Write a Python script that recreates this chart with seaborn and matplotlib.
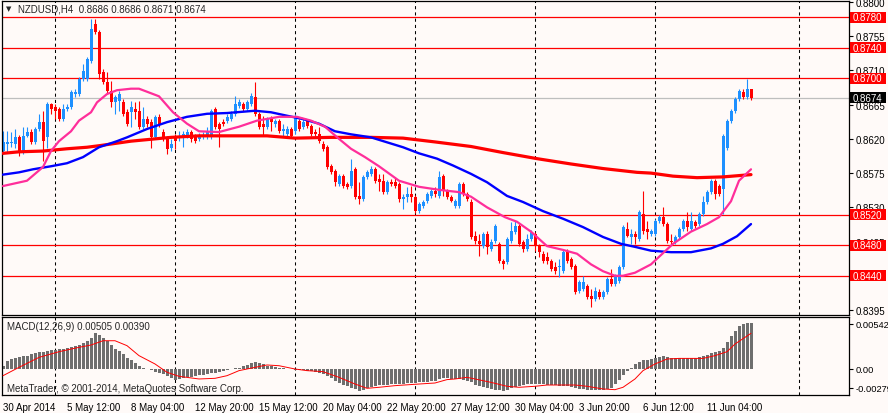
import numpy as np
import matplotlib
matplotlib.use("Agg")
import matplotlib.pyplot as plt
import matplotlib.transforms as mtransforms
from matplotlib.patches import Rectangle
import seaborn as sns

sns.set_style("white")
plt.rcParams['font.family'] = ['Liberation Sans', 'DejaVu Sans']

# ---------------- data ----------------
open_ = [0.8604, 0.8613, 0.8615, 0.8613, 0.8622, 0.8603, 0.8624, 0.8629, 0.8616, 0.8633,
         0.8642, 0.8622, 0.8666, 0.8662, 0.8659, 0.8646, 0.8659, 0.8662, 0.8679, 0.8679,
         0.8699, 0.8699, 0.8722, 0.8771, 0.8761, 0.8708, 0.8695, 0.8683, 0.8668, 0.8670,
         0.8668, 0.8655, 0.8655, 0.8659, 0.8657, 0.8636, 0.8646, 0.8642, 0.8622, 0.8649,
         0.8629, 0.8620, 0.8608, 0.8622, 0.8622, 0.8622, 0.8624, 0.8629, 0.8622, 0.8620,
         0.8624, 0.8622, 0.8622, 0.8659, 0.8640, 0.8642, 0.8644, 0.8646, 0.8653, 0.8663,
         0.8666, 0.8659, 0.8666, 0.8675, 0.8653, 0.8640, 0.8636, 0.8646, 0.8640, 0.8644,
         0.8630, 0.8626, 0.8633, 0.8630, 0.8643, 0.8636, 0.8643, 0.8637, 0.8629, 0.8626,
         0.8613, 0.8609, 0.8584, 0.8578, 0.8561, 0.8571, 0.8561, 0.8558, 0.8580, 0.8545,
         0.8541, 0.8570, 0.8574, 0.8580, 0.8567, 0.8565, 0.8550, 0.8563, 0.8563, 0.8561,
         0.8541, 0.8544, 0.8548, 0.8544, 0.8525, 0.8532, 0.8538, 0.8545, 0.8552, 0.8545,
         0.8571, 0.8552, 0.8544, 0.8532, 0.8532, 0.8561, 0.8548, 0.8537, 0.8492, 0.8486,
         0.8479, 0.8495, 0.8475, 0.8486, 0.8482, 0.8459, 0.8458, 0.8486, 0.8498, 0.8505,
         0.8484, 0.8475, 0.8488, 0.8495, 0.8479, 0.8469, 0.8465, 0.8459, 0.8452, 0.8452,
         0.8446, 0.8471, 0.8462, 0.8453, 0.8420, 0.8423, 0.8427, 0.8413, 0.8410, 0.8419,
         0.8412, 0.8419, 0.8436, 0.8429, 0.8433, 0.8452, 0.8502, 0.8491, 0.8495, 0.8488,
         0.8521, 0.8502, 0.8495, 0.8495, 0.8512, 0.8517, 0.8508, 0.8486, 0.8484, 0.8491,
         0.8502, 0.8512, 0.8502, 0.8511, 0.8508, 0.8521, 0.8537, 0.8550, 0.8565, 0.8558,
         0.8554, 0.8608, 0.8643, 0.8657, 0.8672, 0.8682, 0.8675, 0.8686]
high = [0.8630, 0.8630, 0.8629, 0.8633, 0.8625, 0.8636, 0.8636, 0.8633, 0.8636, 0.8653,
        0.8657, 0.8668, 0.8667, 0.8666, 0.8662, 0.8666, 0.8666, 0.8684, 0.8686, 0.8701,
        0.8718, 0.8728, 0.8778, 0.8778, 0.8763, 0.8712, 0.8708, 0.8696, 0.8678, 0.8683,
        0.8672, 0.8659, 0.8670, 0.8668, 0.8670, 0.8662, 0.8650, 0.8646, 0.8651, 0.8653,
        0.8633, 0.8624, 0.8620, 0.8626, 0.8630, 0.8630, 0.8633, 0.8632, 0.8626, 0.8628,
        0.8629, 0.8636, 0.8659, 0.8662, 0.8642, 0.8646, 0.8653, 0.8657, 0.8676, 0.8672,
        0.8668, 0.8671, 0.8680, 0.8695, 0.8655, 0.8650, 0.8649, 0.8650, 0.8646, 0.8646,
        0.8640, 0.8637, 0.8636, 0.8653, 0.8646, 0.8646, 0.8646, 0.8640, 0.8633, 0.8636,
        0.8617, 0.8612, 0.8587, 0.8580, 0.8574, 0.8574, 0.8563, 0.8594, 0.8583, 0.8563,
        0.8573, 0.8579, 0.8584, 0.8583, 0.8574, 0.8574, 0.8566, 0.8567, 0.8570, 0.8563,
        0.8548, 0.8557, 0.8558, 0.8546, 0.8537, 0.8540, 0.8550, 0.8554, 0.8557, 0.8578,
        0.8574, 0.8554, 0.8546, 0.8541, 0.8563, 0.8563, 0.8550, 0.8541, 0.8499, 0.8495,
        0.8498, 0.8499, 0.8488, 0.8508, 0.8484, 0.8462, 0.8491, 0.8511, 0.8512, 0.8508,
        0.8487, 0.8495, 0.8500, 0.8498, 0.8482, 0.8473, 0.8471, 0.8462, 0.8458, 0.8462,
        0.8474, 0.8475, 0.8465, 0.8455, 0.8435, 0.8440, 0.8429, 0.8423, 0.8425, 0.8423,
        0.8421, 0.8438, 0.8449, 0.8442, 0.8454, 0.8507, 0.8511, 0.8502, 0.8499, 0.8527,
        0.8552, 0.8512, 0.8502, 0.8515, 0.8520, 0.8530, 0.8511, 0.8495, 0.8493, 0.8504,
        0.8515, 0.8524, 0.8524, 0.8513, 0.8524, 0.8545, 0.8553, 0.8567, 0.8567, 0.8561,
        0.8626, 0.8646, 0.8659, 0.8675, 0.8686, 0.8686, 0.8699, 0.8686]
low = [0.8600, 0.8603, 0.8609, 0.8608, 0.8597, 0.8600, 0.8622, 0.8613, 0.8613, 0.8630,
       0.8591, 0.8608, 0.8653, 0.8646, 0.8643, 0.8643, 0.8657, 0.8659, 0.8675, 0.8676,
       0.8696, 0.8696, 0.8720, 0.8758, 0.8699, 0.8692, 0.8679, 0.8662, 0.8653, 0.8657,
       0.8650, 0.8637, 0.8636, 0.8646, 0.8633, 0.8633, 0.8636, 0.8608, 0.8620, 0.8636,
       0.8617, 0.8600, 0.8604, 0.8607, 0.8617, 0.8609, 0.8621, 0.8616, 0.8615, 0.8617,
       0.8620, 0.8620, 0.8620, 0.8633, 0.8609, 0.8637, 0.8641, 0.8643, 0.8650, 0.8661,
       0.8657, 0.8657, 0.8663, 0.8650, 0.8633, 0.8624, 0.8633, 0.8630, 0.8636, 0.8628,
       0.8622, 0.8622, 0.8621, 0.8626, 0.8630, 0.8633, 0.8634, 0.8624, 0.8624, 0.8615,
       0.8604, 0.8580, 0.8574, 0.8558, 0.8558, 0.8555, 0.8554, 0.8555, 0.8541, 0.8534,
       0.8538, 0.8567, 0.8571, 0.8562, 0.8552, 0.8548, 0.8548, 0.8558, 0.8555, 0.8537,
       0.8528, 0.8537, 0.8537, 0.8523, 0.8523, 0.8529, 0.8536, 0.8542, 0.8544, 0.8542,
       0.8545, 0.8541, 0.8537, 0.8529, 0.8529, 0.8545, 0.8538, 0.8488, 0.8482, 0.8466,
       0.8477, 0.8469, 0.8473, 0.8483, 0.8457, 0.8449, 0.8455, 0.8483, 0.8495, 0.8479,
       0.8471, 0.8473, 0.8486, 0.8473, 0.8465, 0.8457, 0.8455, 0.8446, 0.8442, 0.8438,
       0.8444, 0.8457, 0.8449, 0.8416, 0.8417, 0.8420, 0.8410, 0.8399, 0.8407, 0.8410,
       0.8410, 0.8416, 0.8427, 0.8427, 0.8431, 0.8449, 0.8491, 0.8482, 0.8482, 0.8486,
       0.8495, 0.8488, 0.8492, 0.8492, 0.8509, 0.8505, 0.8483, 0.8482, 0.8482, 0.8488,
       0.8499, 0.8499, 0.8499, 0.8503, 0.8505, 0.8519, 0.8534, 0.8548, 0.8541, 0.8545,
       0.8521, 0.8605, 0.8641, 0.8654, 0.8670, 0.8672, 0.8672, 0.8671]
close = [0.8616, 0.8616, 0.8616, 0.8622, 0.8603, 0.8624, 0.8629, 0.8616, 0.8633, 0.8642,
         0.8617, 0.8666, 0.8659, 0.8657, 0.8646, 0.8659, 0.8662, 0.8682, 0.8682, 0.8699,
         0.8709, 0.8725, 0.8764, 0.8761, 0.8705, 0.8695, 0.8683, 0.8668, 0.8675, 0.8679,
         0.8653, 0.8640, 0.8662, 0.8655, 0.8636, 0.8646, 0.8640, 0.8622, 0.8649, 0.8640,
         0.8620, 0.8607, 0.8613, 0.8617, 0.8624, 0.8626, 0.8629, 0.8620, 0.8617, 0.8624,
         0.8625, 0.8629, 0.8657, 0.8636, 0.8633, 0.8640, 0.8649, 0.8653, 0.8666, 0.8668,
         0.8659, 0.8668, 0.8676, 0.8653, 0.8636, 0.8636, 0.8646, 0.8642, 0.8644, 0.8630,
         0.8633, 0.8633, 0.8624, 0.8649, 0.8633, 0.8642, 0.8637, 0.8626, 0.8626, 0.8617,
         0.8607, 0.8583, 0.8576, 0.8563, 0.8571, 0.8558, 0.8557, 0.8578, 0.8544, 0.8541,
         0.8570, 0.8576, 0.8580, 0.8565, 0.8563, 0.8550, 0.8563, 0.8561, 0.8558, 0.8541,
         0.8544, 0.8548, 0.8544, 0.8525, 0.8534, 0.8537, 0.8548, 0.8552, 0.8548, 0.8570,
         0.8552, 0.8544, 0.8538, 0.8538, 0.8561, 0.8548, 0.8541, 0.8491, 0.8486, 0.8482,
         0.8495, 0.8478, 0.8484, 0.8505, 0.8459, 0.8455, 0.8488, 0.8499, 0.8505, 0.8482,
         0.8475, 0.8488, 0.8498, 0.8479, 0.8471, 0.8459, 0.8459, 0.8449, 0.8446, 0.8453,
         0.8471, 0.8459, 0.8452, 0.8419, 0.8432, 0.8432, 0.8412, 0.8410, 0.8420, 0.8412,
         0.8419, 0.8436, 0.8429, 0.8440, 0.8452, 0.8504, 0.8492, 0.8495, 0.8491, 0.8524,
         0.8499, 0.8498, 0.8499, 0.8512, 0.8517, 0.8508, 0.8486, 0.8484, 0.8491, 0.8502,
         0.8512, 0.8504, 0.8512, 0.8505, 0.8521, 0.8537, 0.8550, 0.8565, 0.8548, 0.8548,
         0.8624, 0.8643, 0.8657, 0.8672, 0.8683, 0.8675, 0.8686, 0.8674]

# moving averages (bar index, value)
ma_fast_bar = [0, 6, 10, 12, 14, 17, 19, 22, 23.5, 26, 28.5, 32, 34, 39, 42.5, 46, 49, 54, 59,
               63.5, 69, 73.5, 77, 80.5, 84, 87, 90.5, 94, 99, 104, 109, 114, 117, 121, 125.5,
               128.5, 132, 136, 140, 143.5, 147, 150, 153, 155, 158, 162, 167.5, 172, 176,
               179, 182, 184, 187]
ma_fast_val = [0.8558, 0.8565, 0.8583, 0.8604, 0.8617, 0.8630, 0.8644, 0.8655, 0.8668, 0.8679,
               0.8684, 0.8686, 0.8686, 0.8676, 0.8655, 0.8640, 0.8630, 0.8629, 0.8636,
               0.8644, 0.8649, 0.8649, 0.8644, 0.8636, 0.8620, 0.8607, 0.8596, 0.8584, 0.8565,
               0.8557, 0.8553, 0.8550, 0.8544, 0.8530, 0.8517,
               0.8511, 0.8498, 0.8479, 0.8474, 0.8469, 0.8455, 0.8446, 0.8440, 0.8440, 0.8444,
               0.8455, 0.8482, 0.8498, 0.8508, 0.8517, 0.8538, 0.8565, 0.8580]
ma_mid_bar = [0, 4, 7.5, 12, 16, 20, 24, 28.5, 31, 36, 41, 46, 51, 56, 63, 67, 70.5, 75, 79,
              83, 87, 92, 100, 104, 108.5, 112.5, 117, 121, 126, 130, 135, 140, 145, 150,
              154.5, 158, 162, 167, 172, 177, 180, 183.5, 187]
ma_mid_val = [0.8573, 0.8576, 0.8580, 0.8584, 0.8588, 0.8596, 0.8609, 0.8617, 0.8622, 0.8633,
              0.8642, 0.8649, 0.8653, 0.8654, 0.8657, 0.8655, 0.8651, 0.8646, 0.8640,
              0.8630, 0.8626, 0.8622, 0.8609, 0.8601, 0.8594, 0.8585, 0.8574, 0.8563, 0.8545,
              0.8537, 0.8525, 0.8515, 0.8504, 0.8491, 0.8482, 0.8478, 0.8473, 0.8471, 0.8471,
              0.8476, 0.8482, 0.8492, 0.8508]
ma_slow_bar = [0, 4, 10, 16, 21, 24, 32, 36, 42, 49, 57, 66, 73, 82, 92, 100, 108, 117, 125,
               133.5, 142, 150, 158.5, 162, 167.5, 173.5, 180, 187]
ma_slow_val = [0.8601, 0.8603, 0.8604, 0.8607, 0.8609, 0.8611, 0.8617, 0.8619, 0.8622, 0.8624,
               0.8624, 0.8624, 0.8621, 0.8622, 0.8622, 0.8621, 0.8616, 0.8610, 0.8602,
               0.8594, 0.8587, 0.8581, 0.8576, 0.8575, 0.8571, 0.8569, 0.8570, 0.8573]

macd_main = [0.00036, 0.00091, 0.00109, 0.00120, 0.00131, 0.00138, 0.00146, 0.00160, 0.00171, 0.00182,
             0.00189, 0.00197, 0.00204, 0.00211, 0.00215, 0.00218, 0.00226, 0.00240, 0.00251, 0.00262,
             0.00280, 0.00306, 0.00335, 0.00393, 0.00371, 0.00335, 0.00306, 0.00262, 0.00218, 0.00193,
             0.00160, 0.00124, 0.00095, 0.00066, 0.00036, 0.00011, -0.00004, -0.00015, -0.00033, -0.00044,
             -0.00055, -0.00073, -0.00102, -0.00116, -0.00113, -0.00098, -0.00091, -0.00084, -0.00076, -0.00069,
             -0.00062, -0.00055, -0.00047, -0.00040, -0.00033, -0.00022, -0.00011, -0.00004, 0.00007, 0.00015,
             0.00029, 0.00044, 0.00066, 0.00073, 0.00062, 0.00051, 0.00036, 0.00029, 0.00022, 0.00015,
             0.00007, 0.00004, -0.00004, -0.00007, -0.00011, -0.00015, -0.00018, -0.00022, -0.00029, -0.00040,
             -0.00055, -0.00076, -0.00102, -0.00127, -0.00153, -0.00175, -0.00189, -0.00207, -0.00218, -0.00237,
             -0.00229, -0.00211, -0.00197, -0.00186, -0.00178, -0.00175, -0.00171, -0.00167, -0.00164, -0.00167,
             -0.00164, -0.00157, -0.00153, -0.00149, -0.00146, -0.00142, -0.00138, -0.00135, -0.00127, -0.00109,
             -0.00102, -0.00098, -0.00106, -0.00109, -0.00113, -0.00120, -0.00127, -0.00146, -0.00171, -0.00189,
             -0.00200, -0.00211, -0.00218, -0.00226, -0.00233, -0.00237, -0.00226, -0.00211, -0.00200, -0.00189,
             -0.00178, -0.00167, -0.00164, -0.00164, -0.00164, -0.00167, -0.00171, -0.00175, -0.00178, -0.00182,
             -0.00186, -0.00189, -0.00197, -0.00207, -0.00215, -0.00222, -0.00226, -0.00229, -0.00229, -0.00226,
             -0.00226, -0.00218, -0.00204, -0.00167, -0.00124, -0.00066, -0.00022, 0.00015, 0.00055, 0.00080,
             0.00095, 0.00102, 0.00113, 0.00124, 0.00135, 0.00142, 0.00127, 0.00116, 0.00116, 0.00116,
             0.00116, 0.00116, 0.00116, 0.00120, 0.00127, 0.00138, 0.00153, 0.00171, 0.00189, 0.00200,
             0.00226, 0.00291, 0.00364, 0.00419, 0.00466, 0.00491, 0.00500, 0.00505]
signal_bar = [0, 4, 9, 14, 19, 22, 25, 28, 31, 34, 38, 41, 44, 49, 53, 56, 59, 63, 66, 69, 73,
              76, 80, 84, 88, 91, 94, 98, 103, 108, 111, 113, 116, 118, 122, 126, 129, 133, 136,
              143, 146, 150, 153, 155, 158, 160, 163, 166, 169, 175, 178, 181, 183, 187]
signal_val = [-0.00073, 0.00018, 0.00127, 0.00189, 0.00237, 0.00262, 0.00309, 0.00309, 0.00255,
              0.00146, 0.00055, -0.00036, -0.00080, -0.00109, -0.00102, -0.00073, -0.00018, 0.00018,
              0.00044, 0.00036, 0.00000, -0.00018, -0.00029, -0.00091, -0.00164, -0.00211, -0.00200,
              -0.00182, -0.00167, -0.00153, -0.00116, -0.00109, -0.00091, -0.00109, -0.00146, -0.00189,
              -0.00200, -0.00189, -0.00175, -0.00175, -0.00189, -0.00218, -0.00226, -0.00200, -0.00109,
              -0.00018, 0.00055, 0.00109, 0.00116, 0.00116, 0.00146, 0.00189, 0.00273, 0.00390]

level_lines = [0.8780, 0.8740, 0.8700, 0.8520, 0.8480, 0.8440]
bid_price = 0.8674
price_ticks = [0.8800, 0.8755, 0.8710, 0.8665, 0.8620, 0.8575, 0.8530, 0.8485, 0.8440, 0.8395]
time_label_bars = [0, 16, 32, 48, 64, 80, 96, 112, 128, 144, 160, 176]
time_labels = ["30 Apr 2014", "5 May 12:00", "8 May 04:00", "12 May 20:00", "15 May 12:00",
               "20 May 04:00", "22 May 20:00", "27 May 12:00", "30 May 04:00", "3 Jun 20:00",
               "6 Jun 12:00", "11 Jun 04:00"]
grid_bars = [13, 43, 73, 103, 133, 163, 199]
macd_tick_labels = ["0.00542", "0.00", "-0.00279"]

# ---------------- drawing ----------------
BG = "#FFFAF8"
BLUE = "#1E90FF"
RED = "#FF0000"
PINK = "#FF2E9A"
MABLUE = "#0000FF"
GRAY = "#6E6E6E"
W, H = 888, 414
PXP = 0.0001315   # price per pixel (main panel)
PXM = 0.0001093   # macd per pixel

fig = plt.figure(figsize=(W / 100, H / 100), dpi=100, facecolor=BG)
ax = fig.add_axes([2 / W, 1 - 316 / H, 847 / W, 314 / H], facecolor=BG)
ax2 = fig.add_axes([2 / W, 1 - 396 / H, 847 / W, 78 / H], facecolor=BG)

o = np.array(open_); c = np.array(close); hi = np.array(high); lo = np.array(low)
idx = np.arange(len(c))
bull = c >= o
cols = np.where(bull, BLUE, RED)

for a in (ax, ax2):
    for b in grid_bars:
        a.axvline(b, color="black", lw=0.75, ls=(0, (3, 3)), zorder=1)
    a.set_xlim(-0.25, 211.5)
    for s in a.spines.values():
        s.set_color("black"); s.set_linewidth(0.9)

for lv in level_lines:
    ax.axhline(lv, color=RED, lw=0.9, zorder=1.2)
ax.axhline(bid_price, color="#BEBEBE", lw=0.9, zorder=1.1)

ax.vlines(idx, lo, hi, colors=cols, lw=0.8, zorder=2)
ax.bar(idx, np.maximum(np.abs(c - o), 0.00008), bottom=np.minimum(o, c), width=0.75,
       color=cols, linewidth=0, zorder=2.1)

sns.lineplot(x=ma_slow_bar, y=ma_slow_val, ax=ax, color=RED, linewidth=2.3, sort=False, zorder=3)
sns.lineplot(x=ma_mid_bar, y=ma_mid_val, ax=ax, color=MABLUE, linewidth=1.7, sort=False, zorder=3.1)
sns.lineplot(x=ma_fast_bar, y=ma_fast_val, ax=ax, color=PINK, linewidth=1.6, sort=False, zorder=3.2)

ax.set_ylim(0.88 - 313 * PXP, 0.88 + 1 * PXP)
ax.yaxis.tick_right()
ax.set_yticks(price_ticks)
ax.set_yticklabels([f"{v:.4f}" for v in price_ticks])
ax.tick_params(axis="y", direction="out", length=3, width=0.8, pad=2, labelsize=7, colors="black")
ax.set_xticks([])
ax.set_xlabel(""); ax.set_ylabel("")

tr = mtransforms.blended_transform_factory(ax.transAxes, ax.transData)
for lv, fc in [(v, RED) for v in level_lines] + [(bid_price, "black")]:
    ax.add_patch(Rectangle((1.0 + 1 / 847, lv - 5.5 * PXP), 36 / 847, 11 * PXP, transform=tr,
                           facecolor=fc, edgecolor="none", clip_on=False, zorder=5))
    ax.text(1.0 + 4 / 847, lv, f"{lv:.4f}", transform=tr, color="white", fontsize=7,
            va="center", ha="left", clip_on=False, zorder=6)

# MACD panel
ax2.bar(idx, macd_main, width=0.75, color=GRAY, linewidth=0, zorder=2)
sns.lineplot(x=signal_bar, y=signal_val, ax=ax2, color=RED, linewidth=0.7, sort=False, zorder=3)
ax2.set_ylim(-26 * PXM, 52 * PXM)
ax2.yaxis.tick_right()
ax2.set_yticks([45 * PXM, 0.0, -19 * PXM])
ax2.set_yticklabels(macd_tick_labels)
ax2.tick_params(axis="y", direction="out", length=3, width=0.8, pad=1.5, labelsize=6.7, colors="black")
ax2.set_xticks(time_label_bars)
ax2.set_xticklabels(time_labels, ha="left")
ax2.tick_params(axis="x", direction="out", length=3, width=0.8, pad=2, labelsize=7, colors="black")
ax2.set_xlabel(""); ax2.set_ylabel("")

fig.text(6 / W, 1 - 9 / H, "▼", fontsize=5, va="center", ha="left", family=["DejaVu Sans"])
fig.text(18 / W, 1 - 10 / H, "NZDUSD,H4  0.8686 0.8686 0.8671 0.8674", fontsize=7, va="center", ha="left")
fig.text(7 / W, 1 - 327 / H, "MACD(12,26,9) 0.00505 0.00390", fontsize=7, va="center", ha="left")
fig.text(7 / W, 1 - 389 / H, "MetaTrader, © 2001-2014, MetaQuotes Software Corp.", fontsize=7,
         va="center", ha="left")

fig.savefig("out.png", dpi=100, facecolor=BG)
